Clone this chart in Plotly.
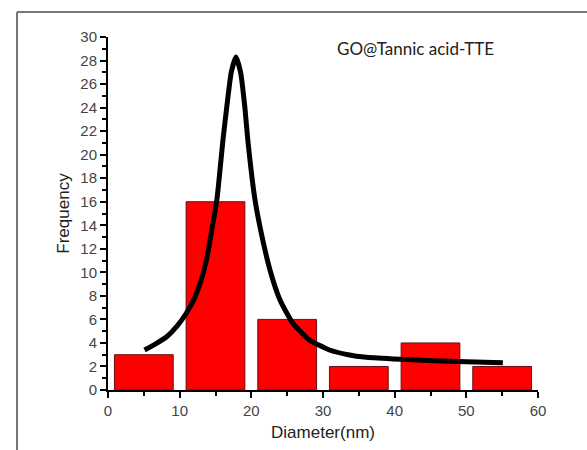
import plotly.graph_objects as go

# Histogram bins (centers) and counts
bin_centers = [5, 15, 25, 35, 45, 55]
counts = [3, 16, 6, 2, 4, 2]

# Fitted curve, points
curve_x = [5.1, 6.6, 8.15, 9.6, 10.9, 12.0, 13.0, 13.8, 14.4, 15.2, 16.05, 16.6, 17.2, 17.85,
           18.5, 19.1, 19.5, 20.5, 21.4, 22.6, 24.0, 25.8, 28.1, 30.9, 33.5, 36.05,
           40.7, 45.35, 50.0, 55.1]
curve_y = [3.4, 3.9, 4.5, 5.4, 6.5, 7.7, 9.35, 11.2, 13.3, 16.2, 21.3, 24.2, 27.0, 28.3,
           27.0, 24.0, 21.3, 16.2, 13.3, 10.2, 7.65, 5.67, 4.25, 3.4, 3.0, 2.78,
           2.61, 2.49, 2.41, 2.32]

label_text = "GO@Tannic acid-TTE"

fig = go.Figure()
fig.add_trace(go.Bar(
    x=bin_centers, y=counts, width=8.2,
    marker=dict(color="#ff0000", line=dict(color="#6b1010", width=1)),
    showlegend=False,
))
fig.add_trace(go.Scatter(
    x=curve_x, y=curve_y, mode="lines",
    line=dict(color="black", width=5, shape="spline", smoothing=0.5),
    showlegend=False,
))

font_fam = "Liberation Sans, Arial, sans-serif"
fig.update_layout(
    width=587, height=450,
    margin=dict(l=108, r=49, t=37, b=60),
    paper_bgcolor="white", plot_bgcolor="white",
    font=dict(family=font_fam, color="#333333", size=15),
    xaxis=dict(
        range=[0, 60], dtick=10, tick0=0, showgrid=False, zeroline=False,
        showline=True, linecolor="black", linewidth=2,
        ticks="outside", ticklen=6, tickwidth=2, tickcolor="black",
        minor=dict(dtick=5, ticks="outside", ticklen=4, tickwidth=2, tickcolor="black"),
        title=dict(text="Diameter(nm)", font=dict(size=17, color="#222222"), standoff=8),
        tickfont=dict(size=15, color="#444444"),
    ),
    yaxis=dict(
        range=[0, 30], dtick=2, tick0=0, showgrid=False, zeroline=False,
        showline=True, linecolor="black", linewidth=2,
        ticks="outside", ticklen=6, tickwidth=2, tickcolor="black",
        minor=dict(dtick=1, ticks="outside", ticklen=4, tickwidth=2, tickcolor="black"),
        title=dict(text="Frequency", font=dict(size=17, color="#222222"), standoff=6),
        tickfont=dict(size=15, color="#444444"),
    ),
    annotations=[dict(
        text=label_text, xref="x", yref="y", x=54.2, y=29.0,
        xanchor="right", yanchor="middle", showarrow=False,
        font=dict(size=17, color="#222222", family="Lato, Liberation Sans, sans-serif"),
    )],
    shapes=[
        dict(type="line", xref="paper", yref="paper", x0=-0.2116, y0=1.0708, x1=1.2, y1=1.0708,
             line=dict(color="#777777", width=2)),
        dict(type="line", xref="paper", yref="paper", x0=-0.2116, y0=1.0708, x1=-0.2116, y1=-0.2,
             line=dict(color="#777777", width=2)),
    ],
)

fig.write_html("out.html")
